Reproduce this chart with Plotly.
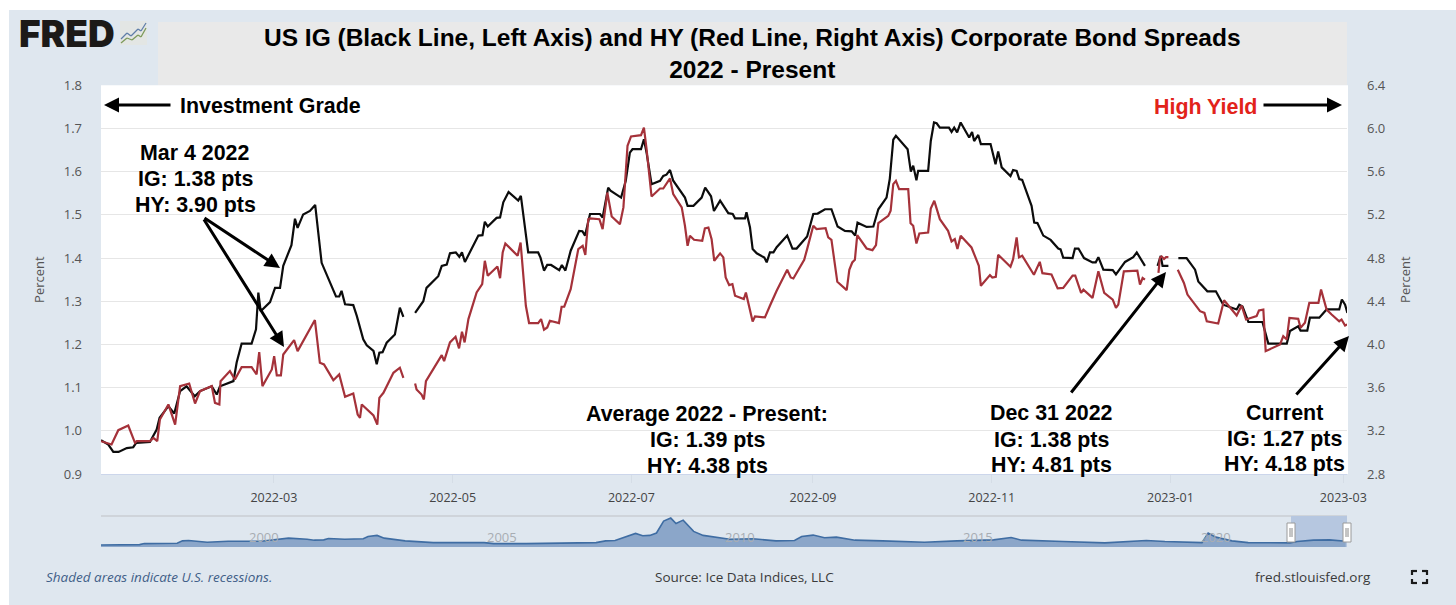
import pandas as pd
import plotly.graph_objects as go

W, H = 1456, 605
PLOT_L, PLOT_R, PLOT_T, PLOT_B = 101, 1347, 85.3, 474
NAV_T, NAV_B = 516, 547

# ---- data: days since 2022-01-01, value (percent); None marks a gap in the series
START = pd.Timestamp("2022-01-01")
ig_days = [0,2.5,4.2,6,8.8,11,12,16.7,19,20,23,25,27,29.2,32,33.8,37.8,39.5,40.6,43.5,45.2,46.3,48,51.4,52.9,53.7,54.5,57.7,59.4,61.1,62.2,65,66.2,67.1,69,71.3,73.1,75.3,79.3,80.2,81.3,82.1,83.3,86.1,87.3,89.5,90.7,93,94.1,95,96.1,97.5,100.3,102,103.2,105,
107.2,110,111.1,115.1,116.3,118,119.1,121.1,122.3,123.2,124.2,128.8,130.2,131,132,135,136.2,137.3,139.1,142.4,143.3,145.8,149.2,150,151.2,152.3,153.6,156.4,157.3,158.5,160.3,163.2,164.3,165.2,166.9,170.3,171.2,173.1,173.9,177.5,179.1,180.5,181.4,184.3,185.3,186.2,187.9,190.8,191.9,193,194.2,195.3,199.3,200.2,202.2,205,206.2,208.2,209.2,211.3,214.1,215.6,216.4,219.8,220.3,221.5,222.4,223.8,226.4,227.2,228.3,229.5,230.6,234.2,236,237.4,241,243.1,244.6,247.1,249.3,251.4,253.9,256.2,257.4,258.2,261.3,263.6,265.3,268.1,269.2,270.4,271.3,275.3,276.4,277.2,278.3,278.9,282.3,283.2,284.3,285.2,286.3,289.4,290.3,291.2,292.2,293.4,296.3,297.3,298,299.4,300.3,303.6,305.3,306.2,307.4,310.4,311.3,312.5,313.4,314.4,317.6,318.5,319.6,321.6,324.1,326.7,327.5,328.4,331.6,332.4,333.6,335.5,338.4,339.5,340.4,342.1,345.3,346.4,349.5,352.3,353.5,356.3,358,
360.6,361.7,362.3,364.3,366,367.7,370.5,373.4,374.5,377.6,380.5,383,387.6,388.5,389.6,391.6,396.4,398.4,404.7,405.8,408.6,409.4,411.7,412.6,415.8,418.3,422.6,423.5,424.6,425.4]
ig_values = [.978,.968,.951,.951,.960,.962,.972,.974,1.003,1.03,1.057,1.04,1.092,1.103,1.08,1.092,1.103,1.084,1.103,1.111,1.115,1.158,1.202,1.202,1.235,1.32,1.277,1.298,1.331,1.331,1.382,1.43,1.491,1.47,1.501,1.509,1.523,1.389,1.328,1.311,1.311,1.324,1.293,1.291,1.266,1.212,1.198,1.185,1.154,1.181,1.182,1.204,1.223,1.285,1.264,None,
1.273,1.30,1.331,1.358,1.382,1.385,1.411,1.413,1.403,1.413,1.391,1.452,1.453,1.484,1.473,1.493,1.494,1.529,1.553,1.533,1.544,1.413,1.413,1.401,1.371,1.384,1.384,1.372,1.384,1.371,1.417,1.463,1.462,1.452,1.502,1.502,1.494,1.563,1.556,1.54,1.579,1.644,1.652,1.652,1.675,1.644,1.571,1.579,1.59,1.593,1.604,1.579,1.54,1.521,1.521,1.54,1.563,1.543,1.509,1.533,1.504,1.502,1.492,1.492,1.506,1.471,1.421,1.411,1.401,1.39,1.413,1.413,1.425,1.452,1.422,1.422,1.45,1.502,1.503,1.513,1.513,1.473,1.463,1.462,1.452,1.482,1.472,1.473,1.513,1.54,1.583,1.674,1.683,1.652,1.6,1.614,1.58,1.602,1.602,1.671,1.714,1.712,1.702,1.702,1.692,1.702,1.691,1.714,1.679,1.692,1.671,1.685,1.664,1.664,1.617,1.647,1.61,1.59,1.604,1.602,1.583,1.581,1.521,1.482,1.481,1.452,1.442,1.422,1.42,1.401,1.4,1.422,1.422,1.4,1.39,1.39,1.402,1.373,1.372,1.362,1.391,1.402,1.413,1.382,None,
1.382,1.405,1.382,1.382,None,1.4,1.4,1.373,1.346,1.323,1.323,1.292,1.281,1.292,1.288,1.252,1.252,1.202,1.202,1.231,1.242,1.232,1.232,1.262,1.262,1.281,1.281,1.304,1.292,1.273]

hy_days = [0,3.6,5.9,9.3,11.6,12.2,16.7,17.9,19.2,20.1,23,25.3,27,30.1,32.1,33.8,37.8,38.9,40.4,40.8,44,45.7,48,51.4,53.1,54,55.1,58.3,59.1,60,61.4,62.2,65.9,67.1,73,74.7,76.1,79.3,81.3,83.3,86.1,87.6,88.4,89,93,94.3,95,96.4,99.8,102,103.2,105,
107.2,107.7,109.4,110.2,110.9,114,116.3,117.1,119.1,121,122.2,123.2,124.1,125.4,128.2,130.1,131,132,135.3,136.2,137.1,138,142.2,143.2,145,146.1,149.2,150.2,151.2,152.3,153.2,156.3,157.2,158.1,160.3,162.9,164.4,165.3,166.3,166.9,170.1,171.2,172.8,174.3,177.1,178.3,179.7,180.9,184.3,185.3,186.2,187.9,190.8,191.9,194.2,195.3,198.2,199.3,200.2,201,202.4,205.2,206.1,207.3,208.4,209.3,211.3,212.4,213.2,214.4,215.5,216.4,219.4,220.1,222.4,223.2,226.6,228.3,230.6,234.2,235.4,236.3,240,241,243.1,244.2,247.3,248.2,249.3,251.3,254.5,255.4,256.4,257.3,258.1,261.3,263.3,264.5,265.3,268.7,269.5,270.4,271.3,272.4,275.5,276.3,277.2,278.3,279.3,282.3,283.2,284.4,286.3,289.1,290.3,291.4,292.3,293.4,297.1,299,299.6,300.3,303.4,304.2,305.4,306.2,307.9,310.4,311.3,312.5,313.3,314.4,318.4,320.4,321.3,324.4,326.5,328.4,331.6,332.5,334.5,335.3,338.4,340.4,342.4,345.3,346.4,347.2,349.1,353.7,354.6,355.5,356.3,358,
360.9,361.4,362,362.8,363.5,364.3,366,367.5,369.6,370.8,375.1,376.6,377.4,381.3,383.3,387.6,389.3,390.8,394.4,395.2,396.7,397.5,402.4,403.5,404.7,405.6,408.6,409.4,410.9,412.4,415.5,416.4,418.3,420,422.6,423.4,424.6,425.4]
hy_values = [3.104,3.073,3.206,3.249,3.088,3.104,3.104,3.134,3.104,3.304,3.444,3.258,3.614,3.638,3.453,3.567,3.614,3.459,3.444,3.66,3.753,3.675,3.79,3.79,3.722,3.929,3.614,3.768,3.892,3.713,3.713,3.907,4.04,3.938,4.226,3.83,3.815,3.669,3.722,3.515,3.546,3.351,3.32,3.444,3.342,3.258,3.505,3.552,3.737,3.784,3.691,None,
3.638,3.583,3.536,3.49,3.66,3.805,3.901,3.845,4.019,4.071,3.963,4.117,4.019,4.235,4.481,4.559,4.775,4.636,4.722,4.614,4.852,4.935,4.821,4.944,4.358,4.198,4.198,4.235,4.136,4.157,4.219,4.198,4.349,4.349,4.512,4.883,4.914,4.83,5.16,5.167,5.16,5.068,5.407,5.185,5.114,5.269,5.84,5.926,5.938,6.009,5.809,5.37,5.444,5.444,5.537,5.392,5.269,5.099,4.914,5.006,4.969,4.96,5.074,5.083,4.975,4.775,4.843,4.806,4.62,4.549,4.559,4.451,4.42,4.481,4.213,4.259,4.25,4.358,4.497,4.691,4.62,4.611,4.784,4.883,5.099,5.068,5.077,4.991,4.969,4.58,4.503,4.691,4.759,4.784,5.012,4.889,4.873,4.92,5.123,5.191,5.238,5.485,5.515,5.438,5.438,5.123,5.099,4.935,5.028,5.037,5.259,5.33,5.16,5.052,4.954,4.975,4.883,5.006,4.898,4.769,4.728,4.543,4.642,4.62,4.627,4.83,4.784,4.719,4.79,4.991,4.806,4.821,4.645,4.765,4.66,4.648,4.519,4.523,4.637,4.637,4.477,4.508,4.431,4.677,4.477,4.415,4.338,4.369,4.677,4.683,4.554,4.615,4.6,None,
4.662,4.8,4.815,4.791,4.809,4.809,None,4.692,4.569,4.462,4.308,4.292,4.215,4.194,4.409,4.268,4.36,4.231,4.262,4.314,4.323,3.938,4,4.077,4.046,4.246,4.237,4.154,4.2,4.385,4.385,4.508,4.323,4.277,4.215,4.231,4.175,4.185]

nav_years = [1997,1997.81,1997.91,1998.6,1998.71,1998.84,1999.23,1999.67,2000.36,2000.94,2001.33,2001.48,2001.68,2001.78,2002.12,2002.51,2002.61,2002.8,2002.95,2003.24,2003.39,2003.98,2005.05,2005.25,2005.93,2007.4,2007.6,2007.8,2007.99,2008.23,2008.38,2008.53,2008.67,2008.82,2008.97,2009.08,2009.23,2009.45,2009.65,2010.04,2010.21,2010.7,2011.18,2011.57,2011.72,2011.96,2012.2,2012.45,2012.84,2013.42,2014.3,2014.98,2015.75,2016.12,2016.34,2017.21,2018.09,2018.96,2019.35,2020.13,2020.26,2020.42,2020.76,2021.1,2021.98,2022.13,2022.47,2022.81,2023.15]
nav_values = [.45,.53,.76,.83,1.36,1.44,1.06,1.29,1.29,1.97,1.74,1.52,1.59,1.89,1.74,1.82,2.35,2.58,1.97,1.67,1.36,.98,.98,.76,.76,.98,1.36,1.44,2.2,3.03,2.5,2.58,3.11,5.76,6.44,5.23,5.98,3.48,2.58,1.97,1.74,1.82,1.36,1.44,2.35,2.65,2.05,2.2,1.52,1.36,1.06,1.36,1.59,2.12,1.52,1.21,.91,1.44,1.21,.98,3.11,2.2,1.36,.98,.91,1.21,1.52,1.59,1.29]
nav_labels = [2000, 2005, 2010, 2015, 2020]

x_tickdates = ["2022-03-01","2022-05-01","2022-07-01","2022-09-01","2022-11-01","2023-01-01","2023-03-01"]
x_ticklabels = ["2022-03","2022-05","2022-07","2022-09","2022-11","2023-01","2023-03"]
ig_ticks = [0.9,1.0,1.1,1.2,1.3,1.4,1.5,1.6,1.7,1.8]
hy_ticks = [2.8,3.2,3.6,4.0,4.4,4.8,5.2,5.6,6.0,6.4]

SANS = "Open Sans"
BOLD = "Liberation Sans"
CARD = "#dfe7ef"

def to_dates(days):
    return [START + pd.Timedelta(days=d) for d in days]

def px(x): return x / W
def py(y): return 1 - y / H

x_end = START + pd.Timedelta(days=(PLOT_R - PLOT_L) / 2.93)

fig = go.Figure()
fig.add_trace(go.Scatter(x=to_dates(ig_days), y=ig_values, mode="lines", name="IG",
                         line=dict(color="#0c0c0c", width=2.2), connectgaps=False,
                         xaxis="x", yaxis="y"))
fig.add_trace(go.Scatter(x=to_dates(hy_days), y=hy_values, mode="lines", name="HY",
                         line=dict(color="#a5323a", width=2.2), connectgaps=False,
                         xaxis="x", yaxis="y2"))
fig.add_trace(go.Scatter(x=nav_years, y=nav_values, mode="lines", fill="tozeroy",
                         fillcolor="#8ba6c9", line=dict(color="#3f6da3", width=1.6),
                         xaxis="x3", yaxis="y3"))

def rect(x0, y0, x1, y1, fill, line=None, layer="below", lw=1):
    return dict(type="rect", xref="paper", yref="paper",
                x0=px(x0), x1=px(x1), y0=py(y0), y1=py(y1),
                fillcolor=fill, line=dict(color=line or fill, width=lw if line else 0), layer=layer)

def seg(x0, y0, x1, y1, color, width, layer="above"):
    return dict(type="line", xref="paper", yref="paper",
                x0=px(x0), x1=px(x1), y0=py(y0), y1=py(y1),
                line=dict(color=color, width=width), layer=layer)

shapes = [
    rect(9, 10, W, H, CARD),
    rect(158, 22, PLOT_R, PLOT_T, "#e9e9e9"),
    rect(PLOT_L, PLOT_T, PLOT_R + 1, PLOT_B, "#ffffff"),
    seg(PLOT_L, NAV_T, PLOT_R, NAV_T, "#cfd4da", 2, "below"),
    rect(1291, NAV_T, PLOT_R, NAV_B, "#b6c7e0", layer="below"),
    rect(1287, 523, 1295, 542, "#ffffff", "#9a9a9a", "above", 1),
    rect(1343, 523, 1351, 542, "#ffffff", "#9a9a9a", "above", 1),
    rect(120, 21, 147, 45, "#e3e6e4", layer="below"),
]
for x in (1290, 1292, 1346, 1348):
    shapes.append(seg(x, 528, x, 537, "#8a8a8a", 1))
shapes += [
    seg(1412, 570, 1412, 575, "#1a1a1a", 2.2), seg(1412, 571, 1417, 571, "#1a1a1a", 2.2),
    seg(1427, 570, 1427, 575, "#1a1a1a", 2.2), seg(1422, 571, 1427, 571, "#1a1a1a", 2.2),
    seg(1412, 579, 1412, 584, "#1a1a1a", 2.2), seg(1412, 583, 1417, 583, "#1a1a1a", 2.2),
    seg(1427, 579, 1427, 584, "#1a1a1a", 2.2), seg(1422, 583, 1427, 583, "#1a1a1a", 2.2),
]
for pts, col in (([(121, 39), (127, 33), (131, 36), (138, 29), (141, 31), (146, 23)], "#5f7ea8"),
                 ([(121, 43), (127, 38), (132, 40), (138, 35), (141, 37), (146, 28)], "#7d9a5a")):
    for a, b in zip(pts, pts[1:]):
        shapes.append(seg(a[0], a[1], b[0], b[1], col, 1.3))

def text(x, y, s, size, color="#000000", family=BOLD, bold=False, italic=False, anchor="center", weight=None):
    t = s
    if bold: t = "<b>" + t + "</b>"
    if italic: t = "<i>" + t + "</i>"
    f = dict(family=family, size=size, color=color)
    if weight: f["weight"] = weight
    return dict(xref="paper", yref="paper", x=px(x), y=py(y), text=t, showarrow=False,
                xanchor=anchor, yanchor="middle", align="center", font=f)

def arrow(tx, ty, hx, hy_, width=3, size=1.0):
    return dict(xref="paper", yref="paper", x=px(hx), y=py(hy_), ax=tx - hx, ay=ty - hy_,
                axref="pixel", ayref="pixel", text="", showarrow=True, arrowhead=2,
                arrowsize=size, arrowwidth=width, arrowcolor="#000000", standoff=0, startstandoff=0)

BLK = 21.4
ann = [
    text(752, 54, "<b>US IG (Black Line, Left Axis) and HY (Red Line, Right Axis) Corporate Bond Spreads</b><br><b>2022 - Present</b>", 24.5),
    text(17, 33, "FRED", 37, color="#1c1a18", family="Inter", anchor="left", weight=900),
    text(270, 106, "Investment Grade", BLK, bold=True),
    text(1205, 107, "High Yield", BLK, color="#e2231a", bold=True),
    text(195, 153, "Mar 4 2022", BLK, bold=True),
    text(195, 179, "IG: 1.38 pts", BLK, bold=True),
    text(195, 205, "HY: 3.90 pts", BLK, bold=True),
    text(707, 414, "Average 2022 - Present:", BLK, bold=True),
    text(707, 440, "IG: 1.39 pts", BLK, bold=True),
    text(707, 466, "HY: 4.38 pts", BLK, bold=True),
    text(1051, 413, "Dec 31 2022", BLK, bold=True),
    text(1051, 440, "IG: 1.38 pts", BLK, bold=True),
    text(1051, 465, "HY: 4.81 pts", BLK, bold=True),
    text(1284, 413, "Current", BLK, bold=True),
    text(1284, 439, "IG: 1.27 pts", BLK, bold=True),
    text(1284, 464, "HY: 4.18 pts", BLK, bold=True),
    text(44, 577, "Shaded areas indicate U.S. recessions.", 13.5, color="#3f6088", family=SANS, italic=True, anchor="left"),
    text(745, 577, "Source: Ice Data Indices, LLC", 13.5, color="#3a3a3a", family=SANS),
    text(1313, 577, "fred.stlouisfed.org", 13.5, color="#3a3a3a", family=SANS),
    arrow(172, 105, 104, 105),
    arrow(1262, 105, 1342, 105),
    arrow(203, 217, 280, 268),
    arrow(203, 218, 284, 347),
    arrow(1070, 394, 1166, 272),
    arrow(1295, 396, 1349, 336),
]
for yr in nav_labels:
    ann.append(dict(xref="x3", yref="paper", x=yr, y=py(537), text=str(yr), showarrow=False,
                    xanchor="left", xshift=3, yanchor="middle",
                    font=dict(family=SANS, size=13, color="#a8adb3")))

plot_dom_x = [px(PLOT_L), px(PLOT_R)]
fig.update_layout(
    width=W, height=H, autosize=False, margin=dict(l=0, r=0, t=0, b=0, pad=0, autoexpand=False),
    paper_bgcolor="#ffffff", plot_bgcolor="rgba(0,0,0,0)", showlegend=False,
    shapes=shapes, annotations=ann,
    xaxis=dict(domain=plot_dom_x, range=[START, x_end], type="date", anchor="y",
               tickmode="array", tickvals=x_tickdates, ticktext=x_ticklabels,
               ticks="outside", ticklen=8, tickcolor="#d5dde6", tickwidth=1,
               showgrid=False, zeroline=False, showline=True, linecolor="#ccd6eb", linewidth=1,
               tickfont=dict(family=SANS, size=12.5, color="#444444"), ticklabelstandoff=4),
    yaxis=dict(domain=[py(PLOT_B), py(PLOT_T)], range=[0.9, 1.8], anchor="x",
               tickmode="array", tickvals=ig_ticks, ticktext=[f"{v:.1f}" for v in ig_ticks],
               showgrid=True, gridcolor="#e6e6e6", gridwidth=1, zeroline=False,
               tickfont=dict(family=SANS, size=13, color="#555555"), ticklabelstandoff=18,
               title=dict(text="Percent", font=dict(family=SANS, size=13, color="#555555"), standoff=16)),
    yaxis2=dict(domain=[py(PLOT_B), py(PLOT_T)], range=[2.8, 6.4], anchor="x", overlaying="y", side="right",
                tickmode="array", tickvals=hy_ticks, ticktext=[f"{v:.1f}" for v in hy_ticks],
                showgrid=False, zeroline=False,
                tickfont=dict(family=SANS, size=13, color="#555555"), ticklabelstandoff=19,
                title=dict(text="Percent", font=dict(family=SANS, size=13, color="#555555"), standoff=16)),
    xaxis3=dict(domain=plot_dom_x, range=[1997, 1997 + (PLOT_R - PLOT_L) / 47.6], anchor="y3",
                showgrid=False, zeroline=False, showticklabels=False, ticks="", showline=False),
    yaxis3=dict(domain=[py(NAV_B), py(NAV_T)], range=[0, 6.9], anchor="x3",
                showgrid=False, zeroline=False, showticklabels=False, ticks="", showline=False),
)

fig.write_html("out.html", config=dict(displayModeBar=False),
               post_script="document.body.style.margin='0';document.body.style.overflow='hidden';")
